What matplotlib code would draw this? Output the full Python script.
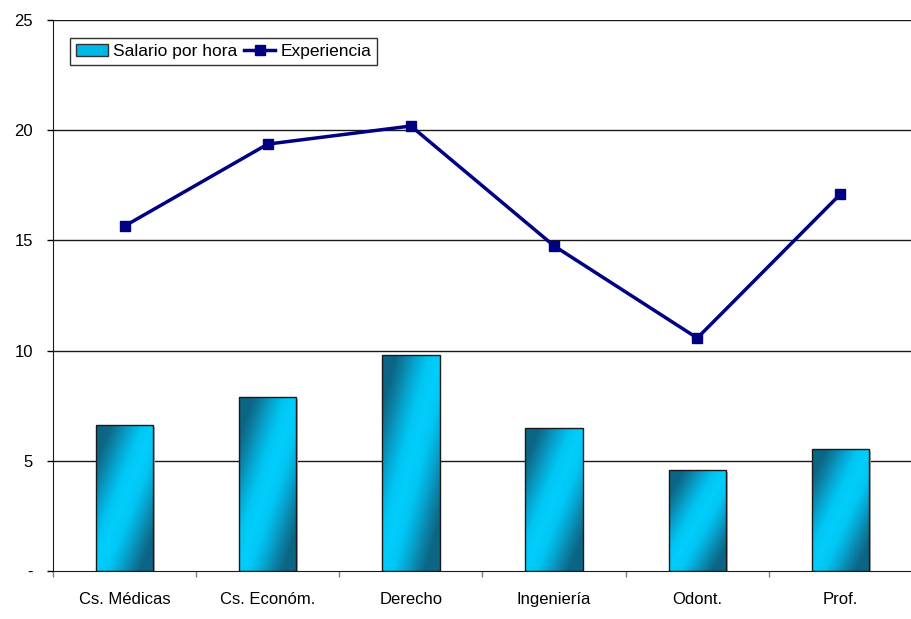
import numpy as np
import matplotlib
matplotlib.use("Agg")
import matplotlib.pyplot as plt
from matplotlib.colors import LinearSegmentedColormap
from matplotlib.patches import Patch
from matplotlib.lines import Line2D

plt.rcParams["font.family"] = ["Liberation Sans", "DejaVu Sans"]

categories = ["Cs. Médicas", "Cs. Económ.", "Derecho", "Ingeniería", "Odont.", "Prof."]
salario = [6.62, 7.9, 9.8, 6.5, 4.58, 5.53]
experiencia = [15.65, 19.37, 20.19, 14.75, 10.57, 17.1]
yticks = [0, 5, 10, 15, 20, 25]
ytick_labels = ["-", "5", "10", "15", "20", "25"]

fig = plt.figure(figsize=(9.12, 6.19), dpi=100)
ax = fig.add_axes([53 / 912, 1 - 571 / 619, 859 / 912, 551 / 619])

x = np.arange(len(categories))
bw = 0.4

# gradient for bars: dark teal at top-left / bottom-right, bright cyan band across
cmap = LinearSegmentedColormap.from_list("bar", ["#0b6584", "#0c84a8", "#05a8d4", "#00c6f4", "#00cefc"])
gx, gy = np.meshgrid(np.linspace(0, 1, 60), np.linspace(0, 1, 120))
u = gx + (1 - gy)  # origin lower: gy=0 is the bottom
grad = 1 - np.clip(np.abs(u - 1) * 1.3, 0, 1)

bars = ax.bar(x, salario, width=bw, color="none", edgecolor="#1a1a1a", linewidth=1, zorder=3)
for b in bars:
    bx, by = b.get_x(), b.get_y()
    w, h = b.get_width(), b.get_height()
    # soft shadow on the right
    ax.add_patch(plt.Rectangle((bx + w, by), 0.012, h - 0.1, color="#b0b0b0", zorder=2, lw=0))
    im = ax.imshow(grad, cmap=cmap, vmin=0, vmax=1, origin="lower",
                   extent=(bx, bx + w, by, by + h), aspect="auto", zorder=2.5)
    im.set_clip_path(b)

ax.plot(x, experiencia, color="#000080", lw=2.5, marker="s", ms=7, zorder=4)

ax.set_xlim(-0.5, len(categories) - 0.5)
ax.set_ylim(0, 25)
ax.set_yticks(yticks)
ax.set_yticklabels(ytick_labels, fontsize=12)
ax.set_xticks(x)
ax.set_xticklabels(categories, fontsize=12)
ax.tick_params(axis="x", length=0, pad=15)
ax.set_xticks(np.arange(len(categories) + 1) - 0.5, minor=True)
ax.tick_params(axis="x", which="minor", length=4.5, color="#808080", width=1)
ax.tick_params(axis="y", length=4.5, width=1, pad=10)
for v in yticks[1:]:
    ax.axhline(v, color="#1a1a1a", lw=1, zorder=1)
ax.spines["right"].set_visible(False)
ax.spines["top"].set_visible(False)
ax.spines["left"].set_color("#1a1a1a")
ax.spines["bottom"].set_color("#1a1a1a")

handles = [Patch(facecolor="#00b8e6", edgecolor="#333333", label="Salario por hora"),
           Line2D([0], [0], color="#000080", lw=2.5, marker="s", ms=7, label="Experiencia")]
leg = ax.legend(handles=handles, loc="upper left", bbox_to_anchor=(0.02, 0.967), ncol=2,
                fontsize=12.5, frameon=True, fancybox=False, edgecolor="#000000",
                borderpad=0.35, columnspacing=0.4, handletextpad=0.3, handlelength=1.8,
                borderaxespad=0)
leg.get_frame().set_linewidth(1)

fig.savefig("out.png", dpi=100, facecolor="white")
